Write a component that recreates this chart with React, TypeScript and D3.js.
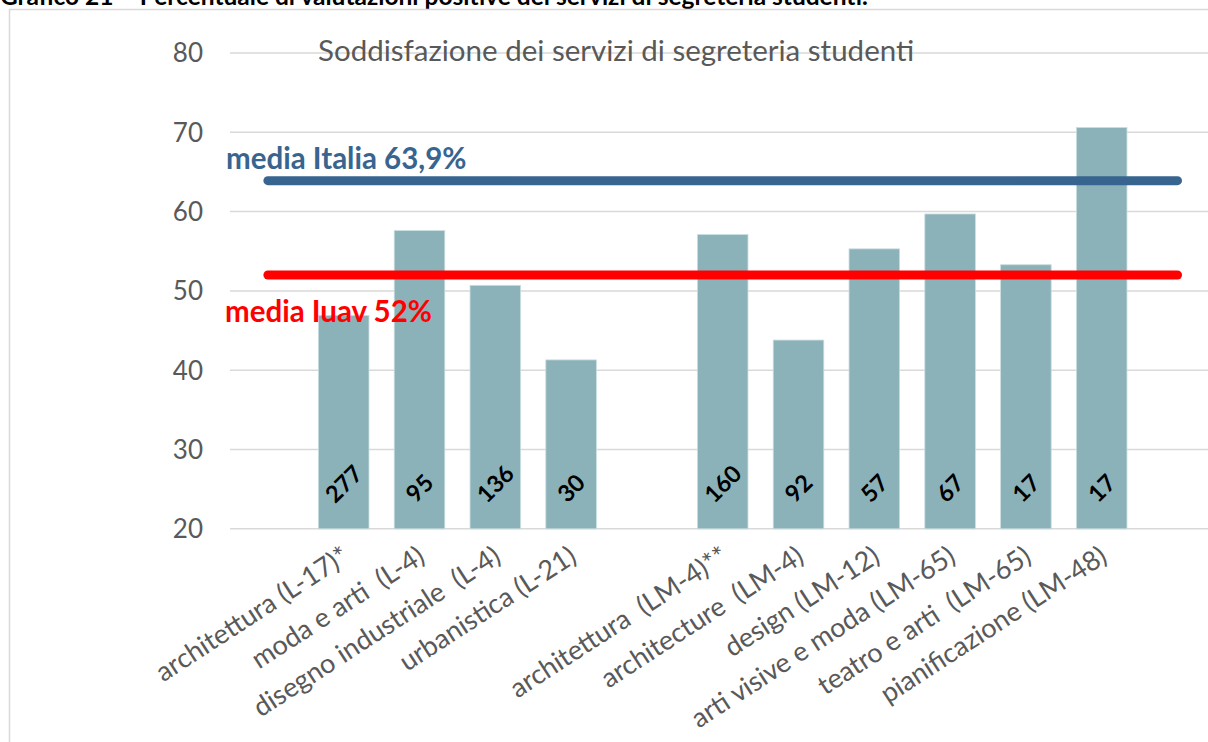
import React from "react";
import * as d3 from "d3";

const categories = [
  "",
  "architettura (L-17)*",
  "moda e arti  (L-4)",
  "disegno industriale  (L-4)",
  "urbanistica (L-21)",
  "",
  "architettura  (LM-4)**",
  "architecture  (LM-4)",
  "design (LM-12)",
  "arti visive e moda (LM-65)",
  "teatro e arti  (LM-65)",
  "pianificazione (LM-48)",
  "",
];
const values: (number | null)[] = [null, 46.9, 57.6, 50.7, 41.3, null, 57.1, 43.8, 55.3, 59.7, 53.3, 70.6, null];
const counts: (string | null)[] = [null, "277", "95", "136", "30", null, "160", "92", "57", "67", "17", "17", null];
const yTicks = [20, 30, 40, 50, 60, 70, 80];
const mediaItalia = 63.9;
const mediaIuav = 52;
const chartTitle = "Soddisfazione dei servizi di segreteria studenti";
const docTitle = "Grafico 21 – Percentuale di valutazioni positive dei servizi di segreteria studenti.";
const labelItalia = "media Italia 63,9%";
const labelIuav = "media Iuav 52%";

const W = 1208;
const H = 742;
const FONT = "Lato, 'Open Sans', sans-serif";
const GREY = "#595959";
const GRID = "#d9d9d9";
const BAR = "#8bb2b9";
const BLUE = "#386590";
const RED = "#ff0000";

export default function App() {
  const keys = categories.map((_, i) => String(i));
  const x = d3.scaleBand<string>().domain(keys).range([230, 230 + 13 * 75.8]).paddingInner(1 / 3).paddingOuter(1 / 6);
  const y = d3.scaleLinear().domain([20, 80]).range([528.8, 53]);
  const step = x.step();
  const bw = x.bandwidth();
  const cx = (i: number) => (x(keys[i]) as number) + bw / 2;
  const base = y(20);
  const x0 = cx(0);
  const x1 = cx(categories.length - 1);

  return (
    <div style={{ position: "absolute", left: 0, top: 0 }}>
      <svg width={W} height={H} style={{ display: "block", background: "#fff" }} fontFamily={FONT}>
        <rect x={0} y={0} width={W} height={H} fill="#fff" />
        <text x={0} y={5} fontSize={24.5} fontWeight="bold" fill="#000">{docTitle}</text>
        <path d={`M9.5,${H + 5} V9.5 H${W + 5}`} fill="none" stroke={GRID} strokeWidth={1.5} />
        {yTicks.map((t) => (
          <g key={t}>
            <line x1={230} x2={230 + 13 * step} y1={y(t)} y2={y(t)} stroke={GRID} strokeWidth={1.5} />
            <text x={203} y={y(t)} dy="0.36em" textAnchor="end" fontSize={26} fill={GREY}>{t}</text>
          </g>
        ))}
        <text x={318} y={61} fontSize={29.5} fill={GREY}>{chartTitle}</text>
        {values.map((v, i) =>
          v == null ? null : (
            <rect key={i} x={x(keys[i])} y={y(v)} width={bw} height={base - y(v)} fill={BAR} stroke="#c9dcdf" strokeWidth={0.8} />
          )
        )}
        {counts.map((c, i) => {
          if (c == null) return null;
          const L = c.length * 12.2;
          const cy = base - 25 - (L + 20) * 0.354;
          return (
            <text key={i} transform={`translate(${cx(i)},${cy}) rotate(-45)`} textAnchor="middle" dy="0.36em" fontSize={23.5} fontWeight="bold" fill="#000">{c}</text>
          );
        })}
        {categories.map((c, i) =>
          c === "" ? null : (
            <text key={i} transform={`translate(${cx(i) + 2},${base + 24}) rotate(-33)`} textAnchor="end" dy="0.35em" fontSize={27} fill={GREY} style={{ whiteSpace: "pre" }}>{c}</text>
          )
        )}
        <line x1={x0} x2={x1} y1={y(mediaItalia)} y2={y(mediaItalia)} stroke={BLUE} strokeWidth={9} strokeLinecap="round" />
        <line x1={x0} x2={x1} y1={y(mediaIuav)} y2={y(mediaIuav)} stroke={RED} strokeWidth={9} strokeLinecap="round" />
        <text x={226} y={169} fontSize={29.5} fontWeight="bold" fill={BLUE}>{labelItalia}</text>
        <text x={225} y={322} fontSize={29.5} fontWeight="bold" fill={RED}>{labelIuav}</text>
      </svg>
    </div>
  );
}
